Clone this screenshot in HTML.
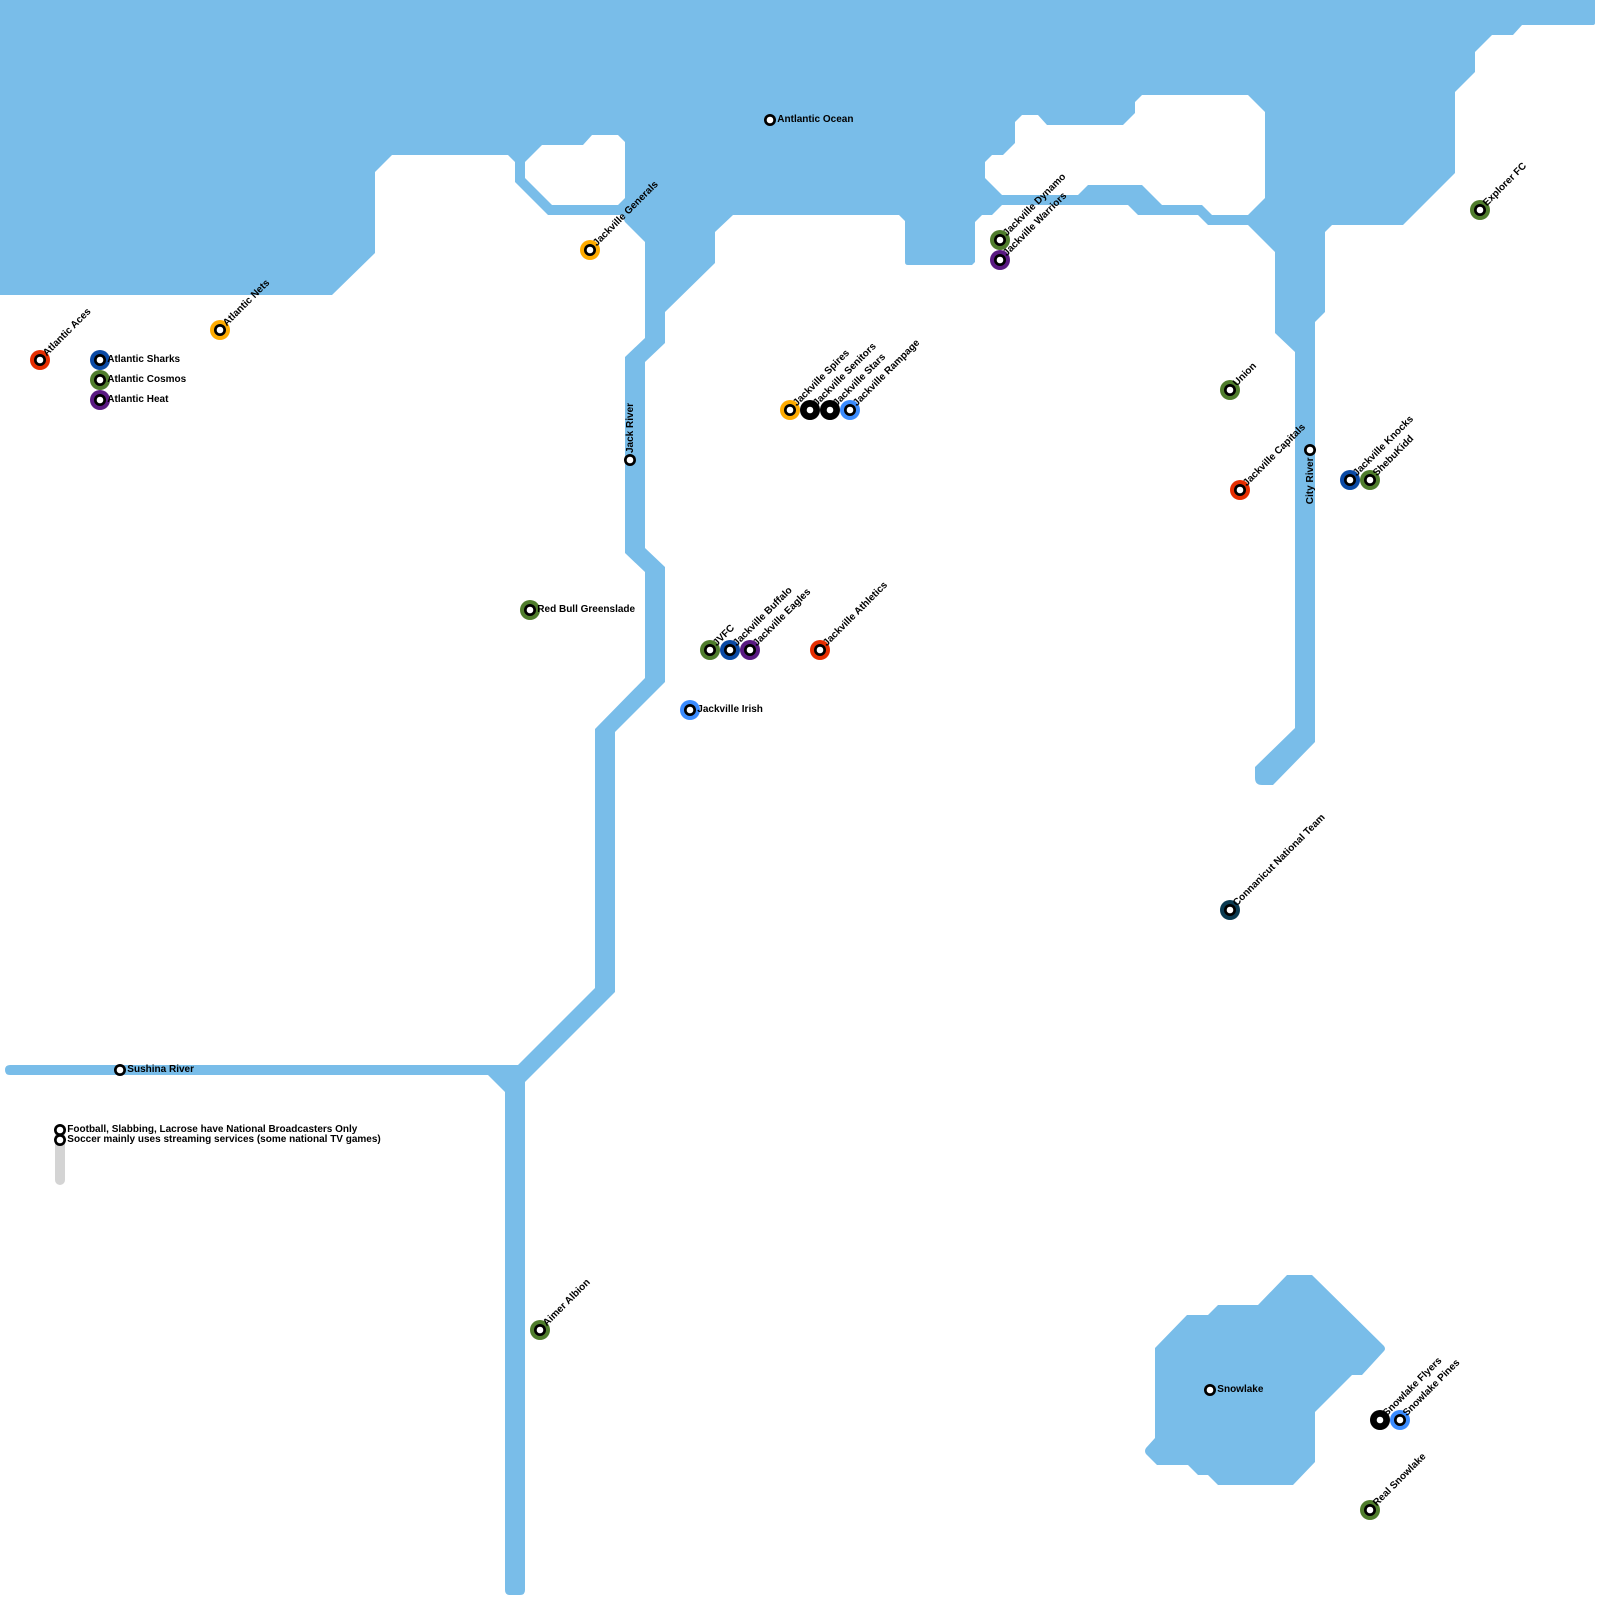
<!DOCTYPE html>
<html lang="en">
<head>
<meta charset="utf-8">
<title>Broadcast Map</title>
<style>
html,body{margin:0;padding:0;background:#fff;width:1600px;height:1600px;overflow:hidden}
svg{display:block}
text{font-family:"Liberation Sans",Arial,sans-serif;font-weight:700;font-size:10px;fill:#000}
</style>
</head>
<body>
<svg xmlns="http://www.w3.org/2000/svg" width="1600" height="1600" viewBox="0 0 1600 1600">
<defs>
<g id="c"><circle r="6" fill="#000"/><circle r="3.3" fill="#fff"/></g>
<g id="p"><circle r="6" fill="#000"/><circle r="3.3" fill="#fff"/></g>
</defs>
<rect width="1600" height="1600" fill="#fff"/>
<rect x="55" y="1130" width="10" height="55" rx="5" fill="#d4d4d4"/>
<path fill="#79BDE9" fill-rule="evenodd" d="M0 0H1595V23Q1595 25 1593 25H1522L1513 35H1492L1475 52V72L1455 92V173L1403 225H1332L1325 232V312L1315 322V742L1273 785H1262Q1255 785 1255 778V767L1295 728V352L1275 333V252L1248 225H1208L1198 215H1138L1128 205H1002L992 215H982L975 222V262L972 265H908Q905 265 905 262V221L899 215H733L715 232V263L665 312V343L645 362V548L665 567V682L615 732V992L525 1082V1590Q525 1595 520 1595H510Q505 1595 505 1590V1092L488 1075H10Q5 1075 5 1070Q5 1065 10 1065H518L595 988V729L645 678V572L625 553V357L645 338V242L625 222L622 215H548L515 182V162L508 155H392L375 172V253L332 295H0Z
M542 145H583L592 135H618L625 142V198L618 205H552L525 178V162Z
M1142 95H1248L1265 112V198L1248 215H1212L1202 205H1162L1142 185H1088L1078 195H1002L985 178V162L992 155H1003L1015 143V122L1022 115H1038L1047 125H1123L1135 113V102Z"/>
<path fill="#79BDE9" d="M1287 1275H1312L1384 1346Q1386 1349 1384 1351L1362 1375H1352L1315 1412V1462L1293 1485H1218L1208 1475H1198L1188 1465H1157L1146 1454Q1144 1451 1146 1448L1155 1438V1348L1187 1315H1208L1218 1305H1258Z"/>

<circle cx="40" cy="360" r="10" fill="#E62E00"/><use href="#c" x="40" y="360"/>
<text transform="translate(40 360) rotate(-45)" x="7.3" y="2.3">Atlantic Aces</text>
<circle cx="100" cy="360" r="10" fill="#0B4AA5"/><use href="#c" x="100" y="360"/>
<text x="107.3" y="362">Atlantic Sharks</text>
<circle cx="100" cy="380" r="10" fill="#4F7D2C"/><use href="#c" x="100" y="380"/>
<text x="107.3" y="382">Atlantic Cosmos</text>
<circle cx="100" cy="400" r="10" fill="#5A1A82"/><use href="#c" x="100" y="400"/>
<text x="107.3" y="402">Atlantic Heat</text>
<circle cx="220" cy="330" r="10" fill="#FFAB00"/><use href="#c" x="220" y="330"/>
<text transform="translate(220 330) rotate(-45)" x="7.3" y="2.3">Atlantic Nets</text>

<use href="#p" x="770" y="120"/>
<text x="777.3" y="122">Antlantic Ocean</text>

<circle cx="590" cy="250" r="10" fill="#FFAB00"/><use href="#c" x="590" y="250"/>
<text transform="translate(590 250) rotate(-45)" x="7.3" y="2.3">Jackville Generals</text>

<circle cx="1000" cy="240" r="10" fill="#4F7D2C"/><use href="#c" x="1000" y="240"/>
<text transform="translate(1000 240) rotate(-45)" x="7.3" y="2.3">Jackville Dynamo</text>
<circle cx="1000" cy="260" r="10" fill="#5A1A82"/><use href="#c" x="1000" y="260"/>
<text transform="translate(1000 260) rotate(-45)" x="7.3" y="2.3">Jackville Warriors</text>

<circle cx="1480" cy="210" r="10" fill="#4F7D2C"/><use href="#c" x="1480" y="210"/>
<text transform="translate(1480 210) rotate(-45)" x="7.3" y="2.3">Explorer FC</text>

<circle cx="790" cy="410" r="10" fill="#FFAB00"/><use href="#c" x="790" y="410"/>
<text transform="translate(790 410) rotate(-45)" x="7.3" y="2.3">Jackville Spires</text>
<circle cx="850" cy="410" r="10" fill="#3B8CFF"/><use href="#c" x="850" y="410"/>
<circle cx="810" cy="410" r="10" fill="#000"/><circle cx="810" cy="410" r="3.3" fill="#fff"/>
<text transform="translate(810 410) rotate(-45)" x="7.3" y="2.3">Jackville Senitors</text>
<circle cx="830" cy="410" r="10" fill="#000"/><circle cx="830" cy="410" r="3.3" fill="#fff"/>
<text transform="translate(830 410) rotate(-45)" x="7.3" y="2.3">Jackville Stars</text>
<text transform="translate(850 410) rotate(-45)" x="7.3" y="2.3">Jackville Rampage</text>

<use href="#p" x="630" y="460"/>
<text transform="translate(630 460) rotate(-90)" x="7" y="3">Jack River</text>

<circle cx="1230" cy="390" r="10" fill="#4F7D2C"/><use href="#c" x="1230" y="390"/>
<text transform="translate(1230 390) rotate(-45)" x="7.3" y="2.3">Union</text>
<circle cx="1240" cy="490" r="10" fill="#E62E00"/><use href="#c" x="1240" y="490"/>
<text transform="translate(1240 490) rotate(-45)" x="7.3" y="2.3">Jackville Capitals</text>
<use href="#p" x="1310" y="450"/>
<text transform="translate(1310 450) rotate(-90)" x="-7.5" y="3" text-anchor="end">City River</text>
<circle cx="1350" cy="480" r="10" fill="#0B4AA5"/><use href="#c" x="1350" y="480"/>
<text transform="translate(1350 480) rotate(-45)" x="7.3" y="2.3">Jackville Knocks</text>
<circle cx="1370" cy="480" r="10" fill="#4F7D2C"/><use href="#c" x="1370" y="480"/>
<text transform="translate(1370 480) rotate(-45)" x="7.3" y="2.3">ShebuKidd</text>

<circle cx="530" cy="610" r="10" fill="#4F7D2C"/><use href="#c" x="530" y="610"/>
<text x="537.3" y="612">Red Bull Greenslade</text>

<circle cx="710" cy="650" r="10" fill="#4F7D2C"/><use href="#c" x="710" y="650"/>
<text transform="translate(710 650) rotate(-45)" x="7.3" y="2.3">JVFC</text>
<circle cx="730" cy="650" r="10" fill="#0B4AA5"/><use href="#c" x="730" y="650"/>
<text transform="translate(730 650) rotate(-45)" x="7.3" y="2.3">Jackville Buffalo</text>
<circle cx="750" cy="650" r="10" fill="#5A1A82"/><use href="#c" x="750" y="650"/>
<text transform="translate(750 650) rotate(-45)" x="7.3" y="2.3">Jackville Eagles</text>
<circle cx="820" cy="650" r="10" fill="#E62E00"/><use href="#c" x="820" y="650"/>
<text transform="translate(820 650) rotate(-45)" x="7.3" y="2.3">Jackville Athletics</text>
<circle cx="690" cy="710" r="10" fill="#3B8CFF"/><use href="#c" x="690" y="710"/>
<text x="697.3" y="712">Jackville Irish</text>

<circle cx="1230" cy="910" r="10" fill="#0A3A50"/><use href="#c" x="1230" y="910"/>
<text transform="translate(1230 910) rotate(-45)" x="7.3" y="2.3">Connanicut National Team</text>

<use href="#p" x="120" y="1070"/>
<text x="127.3" y="1072">Sushina River</text>

<use href="#p" x="60" y="1130"/>
<use href="#p" x="60" y="1140"/>
<text x="67.3" y="1132">Football, Slabbing, Lacrose have National Broadcasters Only</text>
<text x="67.3" y="1142">Soccer mainly uses streaming services (some national TV games)</text>

<circle cx="540" cy="1330" r="10" fill="#4F7D2C"/><use href="#c" x="540" y="1330"/>
<text transform="translate(540 1330) rotate(-45)" x="7.3" y="2.3">Aimer Albion</text>

<use href="#p" x="1210" y="1390"/>
<text x="1217.3" y="1392">Snowlake</text>

<circle cx="1400" cy="1420" r="10" fill="#3B8CFF"/><use href="#c" x="1400" y="1420"/>
<circle cx="1380" cy="1420" r="10" fill="#000"/><circle cx="1380" cy="1420" r="3.3" fill="#fff"/>
<text transform="translate(1380 1420) rotate(-45)" x="7.3" y="2.3">Snowlake Flyers</text>
<text transform="translate(1400 1420) rotate(-45)" x="7.3" y="2.3">Snowlake Pines</text>

<circle cx="1370" cy="1510" r="10" fill="#4F7D2C"/><use href="#c" x="1370" y="1510"/>
<text transform="translate(1370 1510) rotate(-45)" x="7.3" y="2.3">Real Snowlake</text>
</svg>
</body>
</html>
